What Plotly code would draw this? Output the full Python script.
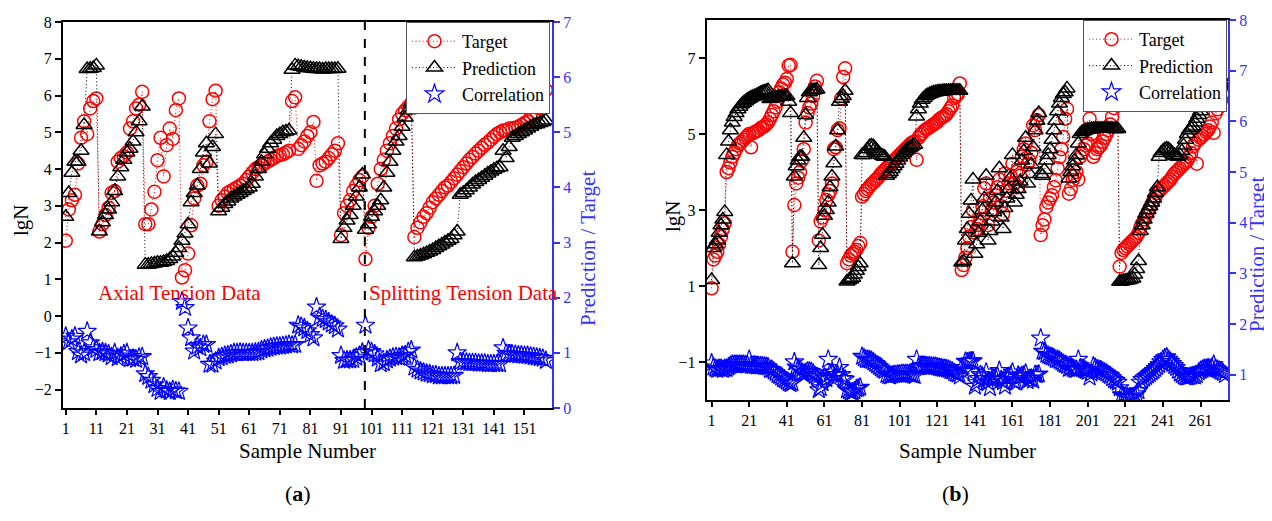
import plotly.graph_objects as go

FONT = "Liberation Serif"

# ---------------- Panel (a): Axial + Splitting tension data ----------------
target_a = [
    2.05, 2.9, 3.15, 3.3, 4.15, 4.85, 5.3, 4.95, 5.65, 5.85, 5.92,
    2.3, 2.5, 2.75, 2.95, 3.35, 3.4, 4.2, 4.3, 4.35, 4.45, 5.1, 5.3, 5.65, 5.75, 6.1,
    2.5, 2.5, 2.9, 3.38, 4.24, 4.85, 3.8, 4.65, 5.1, 4.82, 5.6, 5.92,
    1.05, 1.25, 1.7, 2.47, 3.2, 3.55, 3.6, 4.1, 4.2, 5.3, 5.9, 6.13,
    3.0, 3.15, 3.25, 3.35, 3.4, 3.45, 3.5, 3.55, 3.6, 3.7, 3.8, 3.9, 4.0, 4.05,
    4.1, 4.15, 4.2, 4.25, 4.3, 4.35, 4.38, 4.4, 4.45, 4.5,
    5.85, 5.95, 4.55, 4.65, 4.75, 4.9, 5.0, 5.28, 3.68, 4.1, 4.15, 4.2, 4.3, 4.4, 4.5, 4.7,
    2.2, 2.8, 3.0, 3.15, 3.4, 3.55, 3.7, 3.8,
    1.55,
    2.4, 2.7, 3.0, 3.6, 4.0, 4.25, 4.5, 4.7, 4.9, 5.1, 5.35, 5.5, 5.6, 5.7, 5.8,
    2.15, 2.4, 2.55, 2.7, 2.8, 2.95, 3.1, 3.2, 3.3, 3.4, 3.5, 3.55, 3.65, 3.75, 3.85,
    3.95, 4.05, 4.15, 4.25, 4.33, 4.42, 4.5, 4.58, 4.66, 4.72, 4.8, 4.88, 4.95, 5.0,
    5.05, 5.05, 5.1, 5.1, 5.12, 5.15, 5.2, 5.25, 5.3, 5.4, 5.5, 5.55, 5.65, 5.75, 6.15,
]
prediction_a = [
    2.7, 3.35, 3.9, 4.2, 4.2, 4.5, 5.2, 6.72, 6.73, 6.75, 6.82,
    2.3, 2.55, 2.75, 2.9, 3.1, 3.4, 3.8, 4.05, 4.25, 4.45, 4.55, 4.75, 5.0, 5.3, 5.7,
    1.4, 1.4, 1.42, 1.43, 1.45, 1.45, 1.47, 1.5, 1.55, 1.62, 1.72, 1.85,
    2.05, 2.25, 2.5, 3.1, 3.35, 3.55, 4.0, 4.45, 4.7, 4.15, 4.6, 4.95,
    2.85, 2.95, 3.05, 3.12, 3.2, 3.25, 3.3, 3.35, 3.4, 3.45, 3.5, 3.6, 3.8, 4.0,
    4.2, 4.4, 4.55, 4.7, 4.8, 4.9, 4.95, 5.0, 5.02, 5.05,
    6.7, 6.82, 6.8, 6.78, 6.76, 6.75, 6.74, 6.73, 6.72, 6.72, 6.71, 6.72, 6.72, 6.72, 6.72, 6.73,
    2.1, 2.4, 2.6, 2.75, 3.0, 3.25, 3.5, 3.85,
    2.35,
    2.5, 2.7, 2.85, 3.0, 3.15, 3.5, 3.9, 4.2, 4.5, 4.75, 4.9, 5.15, 5.4, 5.6, 5.8,
    1.6, 1.62, 1.65, 1.68, 1.72, 1.76, 1.8, 1.85, 1.9, 1.95, 2.0, 2.05, 2.1, 2.2, 2.3,
    3.3, 3.35, 3.42, 3.5, 3.58, 3.65, 3.7, 3.76, 3.82, 3.88, 3.93, 3.98, 4.02, 4.05,
    4.5, 4.3, 4.6, 4.85, 4.9, 4.95, 5.0, 5.05, 5.1, 5.15, 5.2, 5.22, 5.25, 5.28, 5.32,
]
correlation_a = [
    1.3, 1.2, 1.25, 1.3, 1.02, 0.96, 1.0, 1.39, 1.18, 1.09, 1.06,
    1.0, 1.02, 1.0, 0.98, 0.93, 1.0, 0.91, 0.94, 0.98, 1.0, 0.89, 0.9, 0.88, 0.92, 0.93,
    0.62, 0.57, 0.5, 0.42, 0.35, 0.3, 0.38, 0.32, 0.3, 0.33, 0.31, 0.3,
    1.93, 1.82, 1.45, 1.27, 1.03, 1.12, 1.09, 1.15, 1.15, 0.79, 0.79, 0.85,
    0.91, 0.93, 0.95, 0.96, 0.98, 1.0, 1.0, 1.01, 1.0, 1.0, 1.0, 1.0, 1.01, 1.02,
    1.05, 1.07, 1.08, 1.1, 1.11, 1.12, 1.12, 1.13, 1.14, 1.15,
    1.14, 1.15, 1.5, 1.48, 1.45, 1.4, 1.33, 1.27, 1.83, 1.65, 1.62, 1.6, 1.56, 1.52, 1.49, 1.43,
    0.95, 0.86, 0.87, 0.87, 0.88, 0.92, 0.95, 1.01,
    1.5,
    1.05, 1.02, 0.98, 0.9, 0.8, 0.82, 0.87, 0.9, 0.92, 0.93, 0.92, 0.95, 0.96, 1.02, 1.05,
    0.74, 0.7, 0.67, 0.65, 0.63, 0.62, 0.6, 0.6, 0.58, 0.58, 0.58, 0.58, 0.58, 0.59, 1.0,
    0.84, 0.83, 0.83, 0.82, 0.82, 0.82, 0.81, 0.81, 0.81, 0.8, 0.8, 0.8, 0.8, 0.8,
    1.09, 0.99, 0.98, 0.97, 0.97, 0.96, 0.96, 0.95, 0.95, 0.94, 0.93, 0.92, 0.91, 0.9, 0.86,
]
sample_a = list(range(1, len(target_a) + 1))
split_sample_a = 98.8
ticks_a_x = list(range(1, 152, 10))
ticks_a_y = list(range(-2, 9))
ticks_a_y2 = list(range(0, 8))

# ---------------- Panel (b) ----------------
target_b = [
    0.94, 1.7, 1.8, 1.9, 2.1, 2.3, 2.5, 2.65,
    4.0, 4.1, 4.25, 4.4, 4.5, 4.6, 4.7, 4.75, 4.8, 4.85, 4.9, 4.95, 5.0, 4.65, 5.02, 5.05,
    5.08, 5.1, 5.15, 5.18, 5.2, 5.25, 5.3, 5.4, 5.5, 5.6, 5.7, 5.85, 6.1, 6.2, 6.3, 6.35, 6.45, 6.8, 6.82,
    1.9, 3.13, 3.7, 3.85, 4.0, 4.3, 4.6, 5.3, 5.55, 5.7, 5.8, 6.0, 6.25, 6.4,
    2.2, 2.7, 2.8, 3.0, 3.26, 3.4, 3.5, 3.7, 4.6, 4.65, 5.1, 5.15, 5.94, 6.5, 6.73,
    1.6, 1.7, 1.8, 1.85, 1.9, 1.95, 2.05, 2.13,
    3.35, 3.42, 3.5, 3.55, 3.62, 3.68, 3.72, 3.78, 3.82, 3.88, 3.95, 4.0, 4.05, 4.1, 4.15,
    4.2, 4.25, 4.3, 4.35, 4.4, 4.45, 4.5, 4.55, 4.6, 4.65, 4.7, 4.75, 4.78, 4.8, 4.32,
    4.9, 4.98, 5.02, 5.08, 5.12, 5.15, 5.18, 5.22, 5.25, 5.28, 5.32, 5.38, 5.42, 5.45,
    5.48, 5.52, 5.6, 5.68, 5.75, 5.95, 6.0, 6.05, 6.33,
    1.42, 1.55, 1.75, 2.0, 2.3, 2.55, 3.0,
    2.4, 2.5, 2.6, 2.7, 3.1, 3.57, 3.7,
    2.6, 3.3, 3.0, 3.2, 3.39, 3.6, 3.8,
    3.1, 2.9, 3.96, 3.5, 3.7, 3.9, 4.22,
    3.7, 4.0, 3.6, 3.9, 4.4, 4.6, 4.75,
    4.2, 4.3, 4.5, 5.23, 5.1, 5.36, 5.5,
    2.34, 2.6, 2.75, 3.08, 3.2, 3.3, 3.39, 3.6, 3.78, 4.1, 4.39, 4.6, 4.92, 5.4, 5.66,
    3.43, 3.55, 3.79, 3.9, 4.0, 3.8, 4.4, 4.5, 4.6, 4.7, 4.75, 5.4, 5.0, 4.4,
    4.5, 4.6, 4.65, 4.7, 4.8, 4.9, 5.0, 5.1, 5.25, 5.45, 5.68, 5.85, 5.9,
    1.51, 1.87, 1.95, 2.0, 2.05, 2.1, 2.15, 2.2, 2.25, 2.3, 2.4, 2.55, 2.65, 2.75, 2.85,
    2.95, 3.05, 3.15, 3.25, 3.35, 3.45, 3.5, 3.55, 3.6, 3.65, 3.7, 3.75, 3.8, 3.88, 3.95,
    4.0, 4.05, 4.1, 4.15, 4.2, 4.25, 4.3, 4.4, 4.5, 4.67, 4.75, 4.22, 4.85, 4.9, 4.95,
    5.0, 5.05, 5.1, 5.2, 5.3, 5.03, 5.54, 5.65, 5.8, 5.9, 6.05, 6.3,
]
prediction_b = [
    1.16, 2.0, 2.1, 2.2, 2.4, 2.6, 2.75, 2.95,
    4.45, 4.8, 5.1, 5.3, 5.45, 5.55, 5.65, 5.72, 5.78, 5.82, 5.86, 5.9, 5.93, 5.96, 5.98,
    6.0, 6.02, 6.05, 6.08, 6.1, 6.12, 6.13, 6.15,
    5.92, 5.94, 5.95, 5.96, 5.97, 5.98, 5.98, 5.98, 6.0, 6.0, 5.85, 5.55,
    1.6, 3.88, 4.15, 4.3, 4.4, 4.4, 4.9, 5.5, 5.95, 6.1, 6.15, 6.15, 6.16, 6.17,
    1.55, 2.0, 2.35, 2.85, 3.0, 3.2, 3.6, 3.88, 4.23, 4.67, 5.1, 5.85, 5.93, 6.0, 6.14,
    1.12, 1.15, 1.18, 1.22, 1.3, 1.4, 1.5, 1.6,
    4.45, 4.45, 4.5, 4.6, 4.68, 4.7, 4.68, 4.62, 4.55, 4.5, 4.45, 4.42, 4.4,
    3.9, 3.95, 4.0, 4.08, 4.15, 4.22, 4.3, 4.38, 4.45, 4.5, 4.55, 4.6, 4.63, 4.66, 4.7, 4.72, 5.46,
    5.65, 5.8, 5.9, 5.95, 6.0, 6.03, 6.05, 6.07, 6.09, 6.1, 6.11, 6.12, 6.12, 6.13,
    6.13, 6.13, 6.14, 6.14, 6.14, 6.14, 6.14, 6.14, 6.14,
    1.62, 1.65, 2.2, 2.5, 2.9, 3.25, 3.8,
    1.85, 2.1, 2.4, 2.7, 3.0, 3.3, 3.9,
    2.2, 2.45, 2.7, 2.95, 3.2, 3.5, 4.1,
    2.8, 2.5, 3.05, 3.3, 3.55, 3.85, 4.45,
    3.2, 3.4, 3.55, 3.75, 4.3, 4.55, 4.9,
    3.7, 3.95, 4.2, 4.65, 5.1, 5.35, 5.55,
    3.95, 3.9, 4.05, 4.3, 4.45, 4.6, 4.85, 5.1, 5.35, 5.6, 5.8, 5.95, 6.05, 6.1, 6.2,
    3.83, 4.0, 4.15, 4.3, 4.45, 4.75, 5.0, 5.05, 5.08, 5.1, 5.12, 5.12, 5.13, 5.13,
    5.14, 5.14, 5.14, 5.14, 5.14, 5.14, 5.14, 5.14, 5.14, 5.14, 5.13, 5.13, 5.13,
    1.11, 1.12, 1.13, 1.14, 1.15, 1.16, 1.18, 1.2, 1.3, 1.45, 1.66,
    2.45, 2.6, 2.75, 2.9, 3.0, 3.1, 3.2, 3.3, 3.45, 3.6,
    4.4, 4.5, 4.55, 4.6, 4.62, 4.6, 4.55, 4.5, 4.45, 4.42, 4.4,
    4.45, 4.55, 4.7, 4.85, 5.0, 5.1, 5.15, 5.2, 5.3, 5.4, 5.5, 5.6, 5.8, 5.9, 6.0,
    6.05, 6.1, 6.15, 6.2, 6.22, 6.25, 6.28, 6.3, 6.3, 6.32,
]
correlation_b = [
    1.23, 1.15, 1.12, 1.1, 1.12, 1.12, 1.1, 1.12,
    1.12, 1.15, 1.18, 1.2, 1.2, 1.2, 1.2, 1.2, 1.2, 1.2, 1.19, 1.19, 1.3, 1.18, 1.18, 1.18,
    1.17, 1.17, 1.17, 1.17, 1.16, 1.16, 1.15, 1.1, 1.1, 1.07, 1.04, 1.0, 0.98, 0.95, 0.92,
    0.9, 0.87, 0.84, 0.82,
    0.84, 1.25, 1.15, 1.12, 1.1, 1.05, 1.0, 1.04, 1.07, 1.07, 1.06, 1.03, 0.98, 0.96,
    0.7, 0.74, 0.84, 0.95, 0.92, 1.3, 1.03, 1.05, 0.92, 1.0, 1.0, 1.14, 1.0, 0.92, 0.91,
    0.7, 0.68, 0.66, 0.66, 0.68, 0.72, 0.73, 0.75,
    1.36, 1.33, 1.3, 1.3, 1.29, 1.28, 1.25, 1.22, 1.19, 1.16, 1.13, 1.1, 1.08,
    1.0, 0.98, 0.97, 0.99, 1.0, 1.0, 1.01, 1.01, 1.02, 1.02, 1.02, 1.02, 1.01, 1.0, 0.99, 0.98, 1.3,
    1.15, 1.16, 1.18, 1.17, 1.17, 1.17, 1.17, 1.16, 1.16, 1.16, 1.15, 1.14, 1.13, 1.12,
    1.12, 1.11, 1.1, 1.08, 1.07, 1.04, 1.02, 1.01, 0.97,
    1.14, 1.06, 1.26, 1.25, 1.26, 1.27, 1.27,
    0.77, 0.84, 0.92, 1.0, 0.97, 0.92, 1.05,
    0.85, 0.74, 0.9, 0.92, 0.94, 0.97, 1.08,
    0.9, 0.86, 0.77, 0.94, 0.96, 0.99, 1.05,
    0.86, 0.85, 0.99, 0.96, 0.98, 0.99, 1.03,
    0.88, 0.92, 0.93, 0.89, 1.0, 1.0, 1.01,
    1.72, 1.46, 1.45, 1.4, 1.38, 1.36, 1.35, 1.33, 1.3, 1.3, 1.28, 1.25, 1.22, 1.2, 1.18,
    1.12, 1.15, 1.12, 1.1, 1.1, 1.3, 1.13, 1.12, 1.1, 1.08, 1.06, 0.95, 1.03, 1.17,
    1.14, 1.11, 1.1, 1.09, 1.07, 1.05, 1.03, 1.0, 0.98, 0.94, 0.9, 0.88, 0.85,
    0.74, 0.6, 0.58, 0.57, 0.56, 0.55, 0.55, 0.56, 0.58, 0.62, 0.68,
    0.85, 0.9, 0.93, 0.96, 0.99, 1.02, 1.05, 1.08, 1.12, 1.16, 1.2, 1.25, 1.3, 1.33, 1.35,
    1.3, 1.26, 1.22, 1.18, 1.14, 1.08, 1.03, 1.0, 0.97, 0.95, 0.95, 0.96, 0.97, 0.98, 0.97,
    1.0, 1.05, 1.08, 1.1, 1.12, 1.12, 1.13, 1.12, 1.14, 1.2, 1.12, 1.1, 1.08, 1.06, 1.04, 1.0,
]
sample_b = list(range(1, len(target_b) + 1))
ticks_b_x = list(range(1, 262, 20))
ticks_b_y = [-1, 1, 3, 5, 7]
ticks_b_y2 = list(range(1, 9))

RED = "#ff0000"
BLUE = "#0000ff"
AXBLUE = "#3333ff"
DOT = "1px,2.5px"

fig = go.Figure()


def add_panel(xs, tgt, prd, cor, xa, ya, ya2, leg):
    fig.add_trace(go.Scatter(
        x=xs, y=tgt, mode="lines+markers", name="Target",
        line=dict(color=RED, width=1, dash=DOT),
        marker=dict(symbol="circle-open", size=13, color=RED, line=dict(width=1.5)),
        xaxis=xa, yaxis=ya, legend=leg))
    fig.add_trace(go.Scatter(
        x=xs, y=prd, mode="lines+markers", name="Prediction",
        line=dict(color="black", width=1, dash=DOT),
        marker=dict(symbol="triangle-up-open", size=14, color="black", line=dict(width=1.5)),
        xaxis=xa, yaxis=ya, legend=leg))
    fig.add_trace(go.Scatter(
        x=xs, y=cor, mode="markers", name="Correlation",
        marker=dict(symbol="star-open", size=14, color=BLUE, line=dict(width=1.2)),
        xaxis=xa, yaxis=ya2, legend=leg))


add_panel(sample_a, target_a, prediction_a, correlation_a, "x", "y", "y2", "legend")
add_panel(sample_b, target_b, prediction_b, correlation_b, "x2", "y3", "y4", "legend2")

# page body has an 8px margin: the figure starts at (8, 8) in the window
OFF = 8
W, H = 1272 - OFF, 521 - OFF


def px_x(p):
    return (p - OFF) / W


def px_y(p):
    return 1 - (p - OFF) / H


tickfont = dict(family=FONT, size=16, color="black")
bluefont = dict(family=FONT, size=16, color=AXBLUE)
common_x = dict(showgrid=False, zeroline=False, showline=True, linecolor="black", linewidth=2,
                mirror=True, ticks="outside", ticklen=5, tickwidth=1.5, tickcolor="black",
                tickfont=tickfont, automargin=False)
common_y = dict(showgrid=False, zeroline=False, showline=True, linecolor="black", linewidth=2,
                ticks="outside", ticklen=6, tickwidth=1.5, tickcolor="black",
                tickfont=tickfont, automargin=False)
common_y2 = dict(showgrid=False, zeroline=False, showline=True, linecolor=AXBLUE, linewidth=2,
                 ticks="outside", ticklen=6, tickwidth=1.5, tickcolor=AXBLUE,
                 tickfont=bluefont, side="right", automargin=False)

legend_common = dict(xanchor="right", yanchor="top", bgcolor="white", bordercolor="#555555",
                     borderwidth=1, font=dict(family=FONT, size=18, color="black"),
                     itemwidth=45, tracegroupgap=0)

fig.update_layout(
    width=W, height=H, autosize=False,
    margin=dict(l=0, r=0, t=0, b=0),
    paper_bgcolor="white", plot_bgcolor="white",
    font=dict(family=FONT, color="black"),
    xaxis=dict(domain=[px_x(63), px_x(552)], anchor="y", range=[0.1, 160],
               tickvals=ticks_a_x, **common_x),
    yaxis=dict(domain=[px_y(408), px_y(22)], anchor="x", range=[-2.5, 8],
               tickvals=ticks_a_y, **common_y),
    yaxis2=dict(overlaying="y", anchor="x", range=[0, 7], tickvals=ticks_a_y2, **common_y2),
    xaxis2=dict(domain=[px_x(706.7), px_x(1228)], anchor="y3", range=[-1.6, 275.6],
                tickvals=ticks_b_x, **common_x),
    yaxis3=dict(domain=[px_y(400), px_y(20)], anchor="x2", range=[-2, 8],
                tickvals=ticks_b_y, **common_y),
    yaxis4=dict(overlaying="y3", anchor="x2", range=[0.5, 8], tickvals=ticks_b_y2, **common_y2),
    legend=dict(x=px_x(550), y=px_y(22), **legend_common),
    legend2=dict(x=px_x(1227), y=px_y(20), **legend_common),
    showlegend=True,
)

fig.add_shape(type="line", xref="x", yref="y domain", x0=split_sample_a, x1=split_sample_a,
              y0=0, y1=1, line=dict(color="black", width=2, dash="dash"))

title_font = dict(family=FONT, size=21, color="black")
blue_title = dict(family=FONT, size=21, color=AXBLUE)
C = dict(xanchor="center", yanchor="middle", showarrow=False, xref="paper", yref="paper")
ann = [
    dict(text="Axial Tension Data", xref="x", yref="y", x=10.9, y=0.63, xanchor="left",
         yanchor="middle", showarrow=False, font=dict(family=FONT, size=21, color=RED)),
    dict(text="Splitting Tension Data", xref="x", yref="y", x=99.4, y=0.63, xanchor="left",
         yanchor="middle", showarrow=False, font=dict(family=FONT, size=21, color=RED)),
    dict(text="lgN", x=px_x(21), y=px_y(220), textangle=-90, font=title_font, **C),
    dict(text="Sample Number", x=px_x(307.5), y=px_y(451), font=title_font, **C),
    dict(text="Prediction / Target", x=px_x(588), y=px_y(249), textangle=-90,
         font=blue_title, **C),
    dict(text="lgN", x=px_x(673), y=px_y(216), textangle=-90, font=title_font, **C),
    dict(text="Sample Number", x=px_x(967), y=px_y(451), font=title_font, **C),
    dict(text="Prediction / Target", x=px_x(1257), y=px_y(255), textangle=-90,
         font=blue_title, **C),
    dict(text="(<b>a</b>)", x=px_x(298), y=px_y(493),
         font=dict(family=FONT, size=22, color="black"), **C),
    dict(text="(<b>b</b>)", x=px_x(955), y=px_y(493),
         font=dict(family=FONT, size=22, color="black"), **C),
]
fig.update_layout(annotations=ann)

fig.write_html("out.html")
